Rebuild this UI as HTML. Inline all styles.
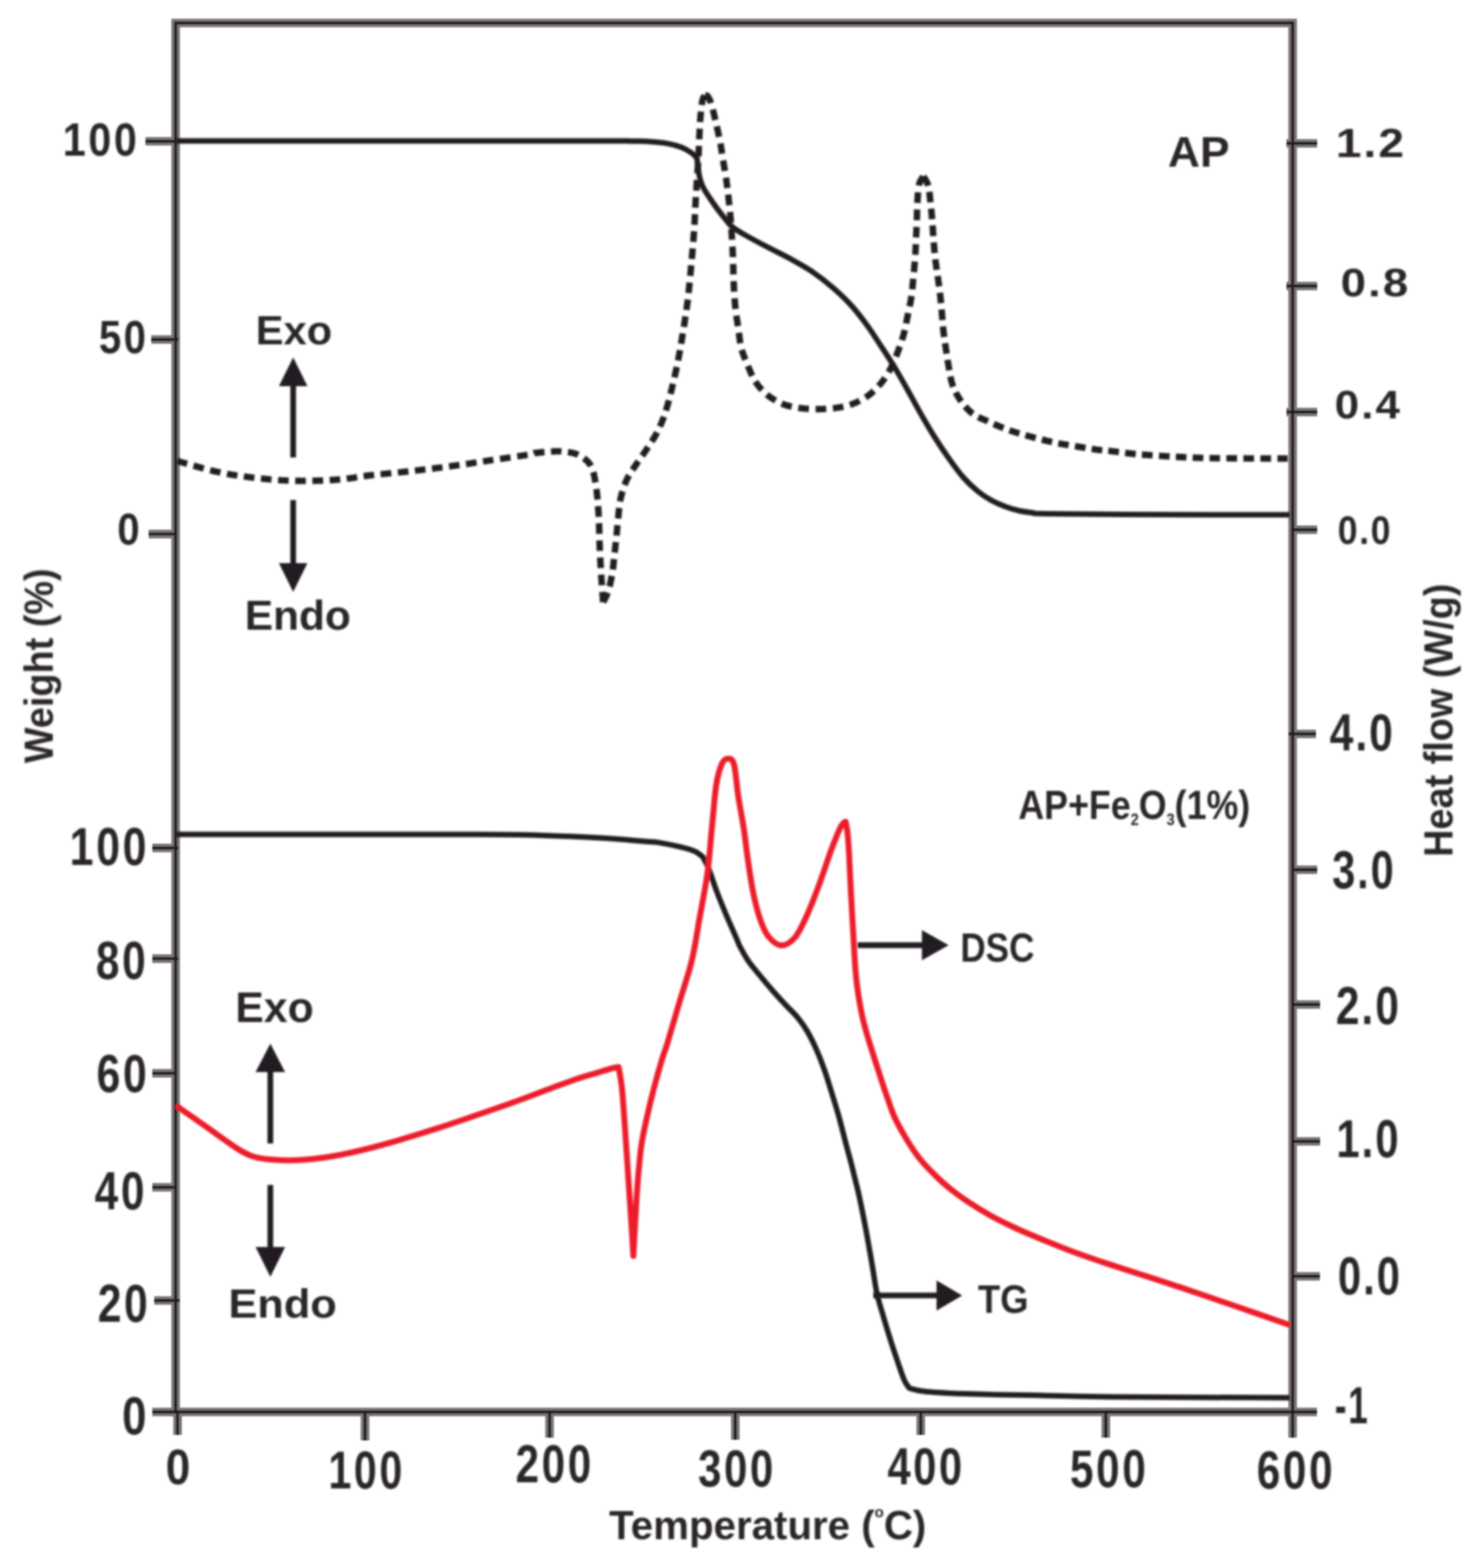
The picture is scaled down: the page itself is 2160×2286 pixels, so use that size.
<!DOCTYPE html>
<html lang="en">
<head>
<meta charset="utf-8">
<title>TG-DSC curves of AP and AP+Fe2O3 (1%)</title>
<style>
html,body{margin:0;padding:0;background:#fff;}
body{width:2160px;height:2286px;overflow:hidden;}
svg{display:block;}
.t{font-family:"Liberation Sans",Arial,Helvetica,sans-serif;font-weight:bold;fill:#2a2627;}
</style>
</head>
<body>
<svg xmlns="http://www.w3.org/2000/svg" width="2160" height="2286" viewBox="0 0 2160 2286">
<rect x="0" y="0" width="2160" height="2286" fill="#ffffff"/>
<defs><filter id="fa" filterUnits="userSpaceOnUse" x="0" y="0" width="2160" height="2286"><feGaussianBlur stdDeviation="0.80"/></filter><filter id="fc" filterUnits="userSpaceOnUse" x="0" y="0" width="2160" height="2286"><feGaussianBlur stdDeviation="1.80"/></filter><filter id="ft" filterUnits="userSpaceOnUse" x="0" y="0" width="2160" height="2286"><feGaussianBlur stdDeviation="1.80"/></filter></defs>
<g id="axes" filter="url(#fa)">
<path d="M256.0 2058.5 L256.0 33.5 L1884.0 33.5" fill="none" stroke="#7d7876" stroke-width="12.6" stroke-linejoin="miter"/>
<line x1="1884.0" y1="27.2" x2="1884.0" y2="2058.5" stroke="#7d7876" stroke-width="12.6" stroke-linecap="butt"/>
<line x1="249.7" y1="2058.5" x2="1890.3" y2="2058.5" stroke="#7d7876" stroke-width="12.6" stroke-linecap="butt"/>
<line x1="212.0" y1="206.0" x2="256.0" y2="206.0" stroke="#7d7876" stroke-width="12.6" stroke-linecap="butt"/>
<line x1="220.5" y1="495.0" x2="260.0" y2="495.0" stroke="#7d7876" stroke-width="12.6" stroke-linecap="butt"/>
<line x1="216.7" y1="778.6" x2="254.0" y2="778.6" stroke="#7d7876" stroke-width="12.6" stroke-linecap="butt"/>
<line x1="222.0" y1="1236.2" x2="260.0" y2="1236.2" stroke="#7d7876" stroke-width="12.6" stroke-linecap="butt"/>
<line x1="222.0" y1="1397.6" x2="260.0" y2="1397.6" stroke="#7d7876" stroke-width="12.6" stroke-linecap="butt"/>
<line x1="222.0" y1="1564.7" x2="254.0" y2="1564.7" stroke="#7d7876" stroke-width="12.6" stroke-linecap="butt"/>
<line x1="222.0" y1="1731.0" x2="254.0" y2="1731.0" stroke="#7d7876" stroke-width="12.6" stroke-linecap="butt"/>
<line x1="224.8" y1="1896.0" x2="262.0" y2="1896.0" stroke="#7d7876" stroke-width="12.6" stroke-linecap="butt"/>
<line x1="222.0" y1="2058.5" x2="256.0" y2="2058.5" stroke="#7d7876" stroke-width="12.6" stroke-linecap="butt"/>
<line x1="1875.0" y1="209.0" x2="1919.7" y2="209.0" stroke="#7d7876" stroke-width="12.6" stroke-linecap="butt"/>
<line x1="1875.0" y1="417.0" x2="1919.7" y2="417.0" stroke="#7d7876" stroke-width="12.6" stroke-linecap="butt"/>
<line x1="1875.0" y1="600.8" x2="1919.7" y2="600.8" stroke="#7d7876" stroke-width="12.6" stroke-linecap="butt"/>
<line x1="1886.0" y1="772.3" x2="1919.7" y2="772.3" stroke="#7d7876" stroke-width="12.6" stroke-linecap="butt"/>
<line x1="1878.0" y1="1070.0" x2="1918.0" y2="1070.0" stroke="#7d7876" stroke-width="12.6" stroke-linecap="butt"/>
<line x1="1886.0" y1="1268.0" x2="1919.7" y2="1268.0" stroke="#7d7876" stroke-width="12.6" stroke-linecap="butt"/>
<line x1="1886.0" y1="1464.5" x2="1924.0" y2="1464.5" stroke="#7d7876" stroke-width="12.6" stroke-linecap="butt"/>
<line x1="1886.0" y1="1664.0" x2="1924.0" y2="1664.0" stroke="#7d7876" stroke-width="12.6" stroke-linecap="butt"/>
<line x1="1886.0" y1="1860.8" x2="1923.7" y2="1860.8" stroke="#7d7876" stroke-width="12.6" stroke-linecap="butt"/>
<line x1="1884.0" y1="2058.5" x2="1919.4" y2="2058.5" stroke="#7d7876" stroke-width="12.6" stroke-linecap="butt"/>
<line x1="258.8" y1="2058.5" x2="258.8" y2="2092.0" stroke="#7d7876" stroke-width="12.6" stroke-linecap="butt"/>
<line x1="532.0" y1="2058.5" x2="532.0" y2="2100.0" stroke="#7d7876" stroke-width="12.6" stroke-linecap="butt"/>
<line x1="801.0" y1="2058.5" x2="801.0" y2="2096.0" stroke="#7d7876" stroke-width="12.6" stroke-linecap="butt"/>
<line x1="1071.7" y1="2058.5" x2="1071.7" y2="2099.0" stroke="#7d7876" stroke-width="12.6" stroke-linecap="butt"/>
<line x1="1342.0" y1="2058.5" x2="1342.0" y2="2092.0" stroke="#7d7876" stroke-width="12.6" stroke-linecap="butt"/>
<line x1="1611.7" y1="2058.5" x2="1611.7" y2="2096.0" stroke="#7d7876" stroke-width="12.6" stroke-linecap="butt"/>
<line x1="1884.0" y1="2058.5" x2="1884.0" y2="2096.0" stroke="#7d7876" stroke-width="12.6" stroke-linecap="butt"/>
<path d="M256.0 2058.5 L256.0 33.5 L1884.0 33.5" fill="none" stroke="#231f20" stroke-width="4.4" stroke-linejoin="miter"/>
<line x1="1884.0" y1="31.3" x2="1884.0" y2="2058.5" stroke="#231f20" stroke-width="4.4" stroke-linecap="butt"/>
<line x1="253.8" y1="2058.5" x2="1886.2" y2="2058.5" stroke="#231f20" stroke-width="4.4" stroke-linecap="butt"/>
<line x1="212.0" y1="206.0" x2="256.0" y2="206.0" stroke="#231f20" stroke-width="4.4" stroke-linecap="butt"/>
<line x1="220.5" y1="495.0" x2="260.0" y2="495.0" stroke="#231f20" stroke-width="4.4" stroke-linecap="butt"/>
<line x1="216.7" y1="778.6" x2="254.0" y2="778.6" stroke="#231f20" stroke-width="4.4" stroke-linecap="butt"/>
<line x1="222.0" y1="1236.2" x2="260.0" y2="1236.2" stroke="#231f20" stroke-width="4.4" stroke-linecap="butt"/>
<line x1="222.0" y1="1397.6" x2="260.0" y2="1397.6" stroke="#231f20" stroke-width="4.4" stroke-linecap="butt"/>
<line x1="222.0" y1="1564.7" x2="254.0" y2="1564.7" stroke="#231f20" stroke-width="4.4" stroke-linecap="butt"/>
<line x1="222.0" y1="1731.0" x2="254.0" y2="1731.0" stroke="#231f20" stroke-width="4.4" stroke-linecap="butt"/>
<line x1="224.8" y1="1896.0" x2="262.0" y2="1896.0" stroke="#231f20" stroke-width="4.4" stroke-linecap="butt"/>
<line x1="222.0" y1="2058.5" x2="256.0" y2="2058.5" stroke="#231f20" stroke-width="4.4" stroke-linecap="butt"/>
<line x1="1875.0" y1="209.0" x2="1919.7" y2="209.0" stroke="#231f20" stroke-width="4.4" stroke-linecap="butt"/>
<line x1="1875.0" y1="417.0" x2="1919.7" y2="417.0" stroke="#231f20" stroke-width="4.4" stroke-linecap="butt"/>
<line x1="1875.0" y1="600.8" x2="1919.7" y2="600.8" stroke="#231f20" stroke-width="4.4" stroke-linecap="butt"/>
<line x1="1886.0" y1="772.3" x2="1919.7" y2="772.3" stroke="#231f20" stroke-width="4.4" stroke-linecap="butt"/>
<line x1="1878.0" y1="1070.0" x2="1918.0" y2="1070.0" stroke="#231f20" stroke-width="4.4" stroke-linecap="butt"/>
<line x1="1886.0" y1="1268.0" x2="1919.7" y2="1268.0" stroke="#231f20" stroke-width="4.4" stroke-linecap="butt"/>
<line x1="1886.0" y1="1464.5" x2="1924.0" y2="1464.5" stroke="#231f20" stroke-width="4.4" stroke-linecap="butt"/>
<line x1="1886.0" y1="1664.0" x2="1924.0" y2="1664.0" stroke="#231f20" stroke-width="4.4" stroke-linecap="butt"/>
<line x1="1886.0" y1="1860.8" x2="1923.7" y2="1860.8" stroke="#231f20" stroke-width="4.4" stroke-linecap="butt"/>
<line x1="1884.0" y1="2058.5" x2="1919.4" y2="2058.5" stroke="#231f20" stroke-width="4.4" stroke-linecap="butt"/>
<line x1="258.8" y1="2058.5" x2="258.8" y2="2092.0" stroke="#231f20" stroke-width="4.4" stroke-linecap="butt"/>
<line x1="532.0" y1="2058.5" x2="532.0" y2="2100.0" stroke="#231f20" stroke-width="4.4" stroke-linecap="butt"/>
<line x1="801.0" y1="2058.5" x2="801.0" y2="2096.0" stroke="#231f20" stroke-width="4.4" stroke-linecap="butt"/>
<line x1="1071.7" y1="2058.5" x2="1071.7" y2="2099.0" stroke="#231f20" stroke-width="4.4" stroke-linecap="butt"/>
<line x1="1342.0" y1="2058.5" x2="1342.0" y2="2092.0" stroke="#231f20" stroke-width="4.4" stroke-linecap="butt"/>
<line x1="1611.7" y1="2058.5" x2="1611.7" y2="2096.0" stroke="#231f20" stroke-width="4.4" stroke-linecap="butt"/>
<line x1="1884.0" y1="2058.5" x2="1884.0" y2="2096.0" stroke="#231f20" stroke-width="4.4" stroke-linecap="butt"/>
</g>
<g id="curves" fill="none" stroke-linejoin="round" filter="url(#fc)">
<path d="M256.0 205.5 C313.3 205.5 496.0 205.5 600.0 205.5 C704.0 205.5 826.7 205.5 880.0 205.5 C933.3 205.5 910.0 205.6 920.0 205.7 C930.0 205.8 931.3 205.4 940.0 206.0 C948.7 206.6 963.3 207.6 972.2 209.1 C981.1 210.6 987.3 212.5 993.2 214.8 C999.1 217.1 1003.9 220.2 1007.7 222.8 C1011.5 225.4 1014.4 229.2 1015.8 230.5 C1016.3 234.6 1017.7 248.3 1019.0 255.1 C1020.3 261.9 1021.4 265.8 1023.8 271.2 C1026.2 276.6 1030.0 281.9 1033.5 287.3 C1037.0 292.7 1041.0 298.4 1044.8 303.5 C1048.6 308.6 1052.3 313.4 1056.1 318.0 C1059.9 322.6 1062.6 326.9 1067.4 330.9 C1072.2 334.9 1076.8 337.3 1085.1 342.1 C1093.4 346.9 1106.5 353.9 1117.3 359.5 C1128.0 365.1 1138.6 370.0 1149.6 376.0 C1160.5 382.0 1172.3 388.2 1183.0 395.5 C1193.7 402.8 1204.5 411.3 1214.0 419.5 C1223.5 427.7 1231.7 435.4 1240.0 444.5 C1248.3 453.6 1256.1 463.8 1263.6 474.0 C1271.1 484.2 1278.3 495.8 1285.0 506.0 C1291.7 516.2 1297.7 525.3 1303.9 535.5 C1310.1 545.7 1315.3 555.1 1322.0 567.0 C1328.7 578.9 1337.5 595.3 1344.2 607.0 C1350.9 618.7 1355.3 626.4 1362.0 637.0 C1368.7 647.6 1377.5 660.7 1384.5 670.5 C1391.5 680.3 1397.3 688.4 1404.0 696.0 C1410.7 703.6 1418.0 710.4 1424.8 716.0 C1431.6 721.6 1438.3 725.8 1445.0 729.5 C1451.7 733.2 1458.4 736.0 1465.1 738.5 C1471.8 741.0 1478.3 743.0 1485.0 744.5 C1491.7 746.0 1498.0 746.8 1505.0 747.5 C1512.0 748.2 1494.2 748.5 1526.7 749.0 C1559.2 749.5 1641.1 750.0 1700.0 750.3 C1758.9 750.5 1850.0 750.5 1880.0 750.5" stroke="#231f20" stroke-width="8.0"/>
<path d="M258.0 672.0 C267.8 674.7 297.7 683.8 317.0 688.0 C336.3 692.2 354.8 694.8 374.0 697.0 C393.2 699.2 412.8 700.6 432.0 701.0 C451.2 701.4 471.0 700.8 489.0 699.5 C507.0 698.2 521.9 695.1 540.0 693.0 C558.1 690.9 578.4 689.2 597.6 687.0 C616.8 684.8 635.8 682.6 655.0 680.0 C674.2 677.4 693.8 674.3 713.0 671.4 C732.2 668.5 759.3 664.6 770.5 662.8 C781.7 661.0 775.1 661.2 780.0 660.5 C784.9 659.8 793.5 658.9 800.0 658.5 C806.5 658.1 811.6 657.4 818.7 658.1 C825.8 658.9 835.8 659.6 842.8 663.0 C849.8 666.4 856.8 671.6 861.0 678.6 C865.2 685.6 866.5 695.9 868.2 705.2 C869.9 714.5 870.6 724.5 871.4 734.2 C872.2 743.9 872.7 753.9 873.1 763.2 C873.5 772.5 873.5 780.9 873.8 789.8 C874.1 798.7 874.5 807.1 875.0 816.4 C875.5 825.7 876.0 835.1 876.7 845.4 C877.4 855.7 878.7 872.6 879.1 878.0" stroke="#231f20" stroke-width="9.4" stroke-dasharray="15.50 9.54" stroke-dashoffset="0.00"/>
<path d="M879.1 878.0 C880.3 875.4 884.2 869.3 886.4 862.3 C888.6 855.3 890.9 844.6 892.4 835.8 C893.9 826.9 894.5 818.1 895.5 809.2 C896.5 800.3 897.5 791.5 898.4 782.6 C899.3 773.7 899.9 765.3 900.9 756.0 C901.9 746.7 902.5 736.3 904.5 727.0 C906.5 717.7 909.4 708.5 913.0 700.4 C916.6 692.3 921.4 686.0 926.2 678.6 C931.0 671.2 937.0 663.4 942.0 655.7 C947.0 648.1 952.3 640.6 956.5 632.7 C960.7 624.8 964.2 617.0 967.3 608.5 C970.4 600.0 972.9 590.9 975.3 582.0 C977.7 573.1 979.7 564.5 981.8 555.4 C983.9 546.3 986.1 536.7 987.9 527.6 C989.7 518.5 991.2 509.9 992.7 501.0 C994.2 492.1 995.7 483.5 997.1 474.4 C998.5 465.3 1000.2 454.0 1001.2 446.6 C1002.2 439.2 1002.2 440.4 1003.3 430.0 C1004.4 419.6 1006.3 399.7 1007.7 384.0 C1009.1 368.3 1010.6 351.8 1011.7 335.7 C1012.8 319.6 1013.2 303.4 1014.2 287.3 C1015.2 271.2 1016.6 252.4 1017.4 239.0 C1018.2 225.6 1018.5 217.4 1019.0 206.7 C1019.5 195.9 1019.8 184.5 1020.6 174.5 C1021.4 164.5 1022.6 152.4 1023.8 146.5 C1025.0 140.6 1026.9 140.2 1027.5 139.0" stroke="#231f20" stroke-width="9.4" stroke-dasharray="15.50 9.46" stroke-dashoffset="0.00"/>
<path d="M1027.5 139.0 C1028.2 139.2 1030.0 138.4 1031.5 140.5 C1033.0 142.6 1034.8 145.1 1036.7 151.3 C1038.7 157.5 1041.1 168.5 1043.2 177.7 C1045.3 186.9 1047.8 197.6 1049.6 206.7 C1051.3 215.8 1052.2 223.4 1053.7 232.5 C1055.2 241.6 1057.2 252.4 1058.5 261.5 C1059.8 270.6 1060.6 277.6 1061.7 287.3 C1062.8 297.0 1064.1 310.2 1064.9 319.6 C1065.7 329.0 1066.0 334.9 1066.6 343.8 C1067.1 352.7 1067.8 363.4 1068.2 372.8 C1068.6 382.2 1068.7 391.5 1069.0 400.2 C1069.3 408.9 1069.5 416.3 1070.0 425.0 C1070.5 433.7 1071.2 443.1 1072.2 452.2 C1073.2 461.3 1075.0 470.5 1076.3 479.6 C1077.6 488.7 1078.1 498.4 1080.3 507.0 C1082.5 515.6 1085.7 522.9 1089.2 531.2 C1092.7 539.5 1096.3 549.5 1101.3 557.0 C1106.3 564.5 1112.3 571.0 1119.0 576.4 C1125.7 581.8 1133.8 586.2 1141.6 589.3 C1149.4 592.4 1157.4 593.7 1165.7 594.9 C1174.0 596.1 1182.9 596.5 1191.5 596.5 C1200.1 596.5 1209.0 596.1 1217.3 594.9 C1225.6 593.7 1233.6 592.2 1241.5 589.3 C1249.4 586.4 1257.5 582.5 1264.5 577.5 C1271.5 572.5 1277.8 566.2 1283.4 559.5 C1289.0 552.8 1293.9 545.1 1298.2 537.0 C1302.5 528.9 1306.1 519.5 1309.3 511.0 C1312.5 502.5 1315.2 494.5 1317.5 486.0 C1319.8 477.5 1321.2 468.9 1323.0 460.0 C1324.8 451.1 1327.1 441.6 1328.4 432.5 C1329.8 423.4 1330.2 414.6 1331.1 405.4 C1332.0 396.2 1333.0 386.6 1333.7 377.2 C1334.4 367.8 1334.7 358.4 1335.1 349.0 C1335.5 339.6 1336.0 329.9 1336.3 320.8 C1336.6 311.7 1336.5 303.3 1337.1 294.6 C1337.7 285.9 1338.2 274.7 1339.7 268.4 C1341.2 262.1 1344.8 258.9 1345.8 257.0" stroke="#231f20" stroke-width="9.4" stroke-dasharray="15.50 9.75" stroke-dashoffset="0.00"/>
<path d="M1345.8 257.0 C1347.0 259.2 1351.1 264.5 1352.8 270.4 C1354.5 276.3 1355.0 284.4 1355.9 292.5 C1356.9 300.6 1357.7 309.6 1358.5 318.7 C1359.3 327.8 1359.8 337.6 1360.5 347.0 C1361.2 356.4 1361.9 366.1 1362.9 375.2 C1363.9 384.3 1365.3 392.7 1366.5 401.4 C1367.7 410.1 1369.0 418.9 1370.0 427.6 C1371.0 436.3 1371.8 444.7 1372.6 453.8 C1373.4 462.9 1374.0 472.9 1375.0 482.0 C1376.0 491.1 1377.3 499.5 1378.6 508.2 C1379.9 516.9 1381.1 525.7 1382.7 534.4 C1384.3 543.1 1385.3 552.5 1388.1 560.5 C1390.8 568.5 1394.3 575.6 1399.2 582.7 C1404.1 589.8 1410.2 597.5 1417.3 602.9 C1424.3 608.3 1433.4 611.2 1441.5 615.0 C1449.6 618.8 1458.1 622.5 1466.0 625.5 C1473.9 628.5 1480.8 630.6 1489.0 633.0 C1497.2 635.4 1506.3 637.8 1515.0 640.0 C1523.7 642.2 1531.8 644.2 1541.0 646.0 C1550.2 647.8 1560.3 649.4 1570.0 651.0 C1579.7 652.6 1590.8 654.5 1599.0 655.6 C1607.2 656.7 1609.5 656.5 1619.0 657.6 C1628.5 658.7 1640.3 660.6 1656.0 662.0 C1671.7 663.4 1693.8 665.0 1713.0 666.0 C1732.2 667.0 1743.7 667.6 1771.0 668.0 C1798.3 668.4 1859.3 668.4 1877.0 668.5" stroke="#231f20" stroke-width="9.4" stroke-dasharray="15.50 9.14" stroke-dashoffset="0.00"/>
<path d="M256.0 1216.5 C296.7 1216.5 426.0 1216.5 500.0 1216.5 C574.0 1216.5 655.0 1216.4 700.0 1216.5 C745.0 1216.6 748.7 1216.7 770.0 1217.2 C791.3 1217.7 808.7 1218.5 828.0 1219.3 C847.3 1220.1 866.8 1221.0 886.0 1222.3 C905.2 1223.6 931.2 1226.0 943.5 1227.0 C955.8 1228.0 951.9 1227.1 960.0 1228.4 C968.1 1229.7 983.4 1232.7 992.3 1234.8 C1001.2 1236.9 1007.8 1238.9 1013.2 1241.3 C1018.6 1243.7 1022.6 1248.1 1024.5 1249.4 C1025.8 1252.1 1029.4 1257.5 1032.6 1265.5 C1035.8 1273.5 1039.9 1287.0 1043.9 1297.7 C1047.9 1308.5 1052.0 1318.5 1056.8 1330.0 C1061.6 1341.5 1069.3 1358.7 1072.9 1367.0 C1076.5 1375.3 1075.7 1374.5 1078.5 1380.0 C1081.3 1385.5 1086.0 1393.9 1090.0 1400.0 C1094.0 1406.1 1096.4 1408.7 1102.8 1416.5 C1109.2 1424.3 1121.3 1438.8 1128.5 1447.0 C1135.7 1455.2 1140.0 1459.6 1145.7 1465.7 C1151.4 1471.8 1157.7 1477.5 1162.8 1483.8 C1167.9 1490.1 1171.9 1495.6 1176.5 1503.4 C1181.1 1511.2 1185.9 1521.1 1190.2 1530.8 C1194.5 1540.5 1198.5 1551.0 1202.2 1561.6 C1205.9 1572.2 1209.1 1583.1 1212.5 1594.2 C1215.9 1605.3 1219.4 1616.1 1222.8 1628.4 C1226.2 1640.7 1230.2 1657.0 1233.0 1667.8 C1235.8 1678.6 1237.7 1684.8 1239.9 1693.5 C1242.2 1702.2 1244.4 1711.4 1246.5 1720.0 C1248.6 1728.6 1250.1 1733.5 1252.6 1745.3 C1255.1 1757.1 1258.7 1774.7 1261.7 1790.7 C1264.7 1806.7 1268.0 1825.8 1270.7 1841.5 C1273.4 1857.2 1275.3 1872.3 1278.0 1885.0 C1280.7 1897.7 1283.7 1906.2 1287.0 1917.7 C1290.3 1929.2 1294.4 1942.5 1298.0 1954.0 C1301.6 1965.5 1305.5 1976.9 1308.8 1986.6 C1312.1 1996.3 1315.2 2005.8 1317.9 2012.0 C1320.6 2018.2 1324.0 2021.8 1325.2 2023.8 C1328.5 2024.5 1335.6 2027.1 1345.0 2028.3 C1354.4 2029.5 1366.3 2030.2 1381.4 2031.0 C1396.5 2031.8 1416.0 2032.3 1435.8 2032.8 C1455.6 2033.3 1469.6 2033.4 1500.0 2034.0 C1530.4 2034.6 1554.7 2035.9 1618.0 2036.5 C1681.3 2037.1 1836.3 2037.6 1880.0 2037.8" stroke="#231f20" stroke-width="8.0"/>
<path d="M256.0 1611.5 C263.3 1616.6 284.9 1631.7 300.0 1642.3 C315.1 1652.9 335.3 1667.8 346.6 1675.0 C357.9 1682.2 360.9 1683.3 368.0 1685.8 C375.1 1688.3 380.4 1689.0 389.3 1690.0 C398.2 1691.0 410.6 1691.8 421.2 1691.8 C431.8 1691.8 440.8 1691.3 453.2 1690.0 C465.6 1688.7 481.7 1686.4 495.9 1683.7 C510.1 1681.0 524.3 1677.6 538.5 1674.0 C552.7 1670.4 564.3 1667.3 581.2 1662.3 C598.1 1657.3 621.7 1650.1 640.0 1644.2 C658.3 1638.3 672.9 1633.2 691.0 1627.0 C709.1 1620.8 729.2 1613.9 748.4 1607.0 C767.6 1600.1 790.7 1591.1 806.0 1585.5 C821.3 1579.9 830.4 1576.5 840.0 1573.2 C849.6 1570.0 854.9 1568.6 863.6 1566.0 C872.3 1563.4 885.7 1559.2 892.0 1557.5 C898.3 1555.8 899.9 1555.8 901.5 1555.5 C902.3 1560.7 904.8 1570.2 906.5 1586.5 C908.2 1602.8 910.1 1633.6 911.5 1653.0 C912.9 1672.4 913.7 1686.4 914.8 1703.0 C915.9 1719.6 917.1 1736.2 918.2 1752.8 C919.3 1769.4 920.7 1789.7 921.5 1802.7 C922.3 1815.7 922.8 1826.3 923.1 1831.0 C923.7 1820.7 925.4 1788.0 926.5 1769.4 C927.6 1750.8 928.4 1736.1 929.8 1719.5 C931.2 1702.9 932.6 1685.0 934.8 1669.7 C937.0 1654.5 940.0 1641.9 943.1 1628.0 C946.2 1614.1 949.5 1600.3 953.1 1586.5 C956.7 1572.7 961.4 1556.1 964.7 1545.0 C968.0 1533.9 968.8 1533.8 973.0 1520.0 C977.2 1506.2 984.1 1482.0 990.0 1462.0 C995.9 1442.0 1003.4 1420.7 1008.4 1400.0 C1013.4 1379.3 1015.9 1359.1 1019.7 1338.0 C1023.5 1316.9 1028.0 1295.0 1031.0 1273.5 C1034.0 1252.0 1035.2 1230.5 1037.4 1209.0 C1039.6 1187.5 1041.5 1160.3 1043.9 1144.5 C1046.3 1128.7 1049.2 1120.4 1052.0 1114.0 C1054.8 1107.6 1057.5 1106.0 1060.5 1106.0 C1063.5 1106.0 1067.1 1104.9 1069.7 1114.0 C1072.3 1123.1 1073.6 1144.8 1076.0 1160.6 C1078.4 1176.4 1081.8 1192.9 1084.2 1209.0 C1086.6 1225.1 1088.2 1241.3 1090.6 1257.4 C1093.0 1273.5 1095.5 1291.0 1098.7 1305.8 C1101.9 1320.6 1106.2 1335.8 1110.0 1346.0 C1113.8 1356.2 1116.5 1361.6 1121.3 1367.0 C1126.1 1372.4 1132.8 1378.4 1139.0 1378.4 C1145.2 1378.4 1152.5 1373.7 1158.4 1367.0 C1164.3 1360.3 1168.6 1350.9 1174.5 1338.0 C1180.4 1325.1 1187.9 1305.8 1193.9 1289.7 C1199.9 1273.6 1205.8 1254.8 1210.7 1241.3 C1215.7 1227.8 1220.5 1215.9 1223.6 1209.0 C1226.7 1202.1 1228.0 1201.6 1229.5 1199.8 C1231.0 1198.0 1232.0 1198.3 1232.5 1198.0 C1232.9 1200.3 1234.2 1204.8 1235.0 1212.0 C1235.8 1219.2 1236.4 1225.7 1237.3 1241.3 C1238.2 1256.9 1239.2 1281.8 1240.5 1305.8 C1241.8 1329.8 1243.7 1364.1 1245.0 1385.0 C1246.3 1405.9 1246.5 1415.1 1248.5 1431.4 C1250.5 1447.7 1253.6 1467.1 1257.0 1482.8 C1260.4 1498.5 1264.7 1511.3 1269.0 1525.6 C1273.3 1539.9 1278.8 1556.4 1282.7 1568.5 C1286.6 1580.6 1289.0 1588.1 1292.5 1598.0 C1296.0 1607.9 1298.9 1618.0 1303.5 1628.1 C1308.1 1638.2 1314.1 1648.8 1319.9 1658.6 C1325.8 1668.4 1331.6 1677.8 1338.6 1686.8 C1345.6 1695.8 1354.3 1704.8 1362.1 1712.6 C1369.9 1720.4 1377.3 1727.1 1385.5 1733.7 C1393.7 1740.3 1401.5 1746.0 1411.3 1752.4 C1421.1 1758.9 1432.9 1766.1 1444.2 1772.4 C1455.5 1778.7 1467.6 1784.5 1479.3 1790.0 C1491.0 1795.5 1500.8 1799.5 1514.5 1805.2 C1528.2 1810.9 1545.8 1818.1 1561.4 1824.0 C1577.0 1829.9 1592.7 1835.1 1608.3 1840.4 C1623.9 1845.7 1636.6 1849.5 1655.2 1855.6 C1673.8 1861.6 1695.9 1868.6 1720.0 1876.7 C1744.1 1884.8 1773.2 1894.8 1800.0 1904.0 C1826.8 1913.2 1867.1 1927.3 1880.5 1932.0" stroke="#ec1c2c" stroke-width="8.6" stroke-linejoin="round"/>
</g>
<g id="arrows" fill="#231f20" filter="url(#fc)">
<line x1="427.3" y1="667.0" x2="427.3" y2="542.0" stroke="#231f20" stroke-width="8.3" stroke-linecap="butt"/>
<polygon points="406.5,563.0 448.1,563.0 427.3,521.0"/>
<line x1="427.3" y1="729.0" x2="427.3" y2="842.0" stroke="#231f20" stroke-width="8.3" stroke-linecap="butt"/>
<polygon points="406.5,821.0 448.1,821.0 427.3,863.0"/>
<line x1="394.0" y1="1667.0" x2="394.0" y2="1542.2" stroke="#231f20" stroke-width="8.3" stroke-linecap="butt"/>
<polygon points="372.5,1563.0 415.5,1563.0 394.0,1521.5"/>
<line x1="394.0" y1="1727.5" x2="394.0" y2="1839.8" stroke="#231f20" stroke-width="8.3" stroke-linecap="butt"/>
<polygon points="372.5,1818.0 415.5,1818.0 394.0,1861.5"/>
<line x1="1250.0" y1="1378.0" x2="1363.2" y2="1378.0" stroke="#231f20" stroke-width="8.3" stroke-linecap="butt"/>
<polygon points="1343.7,1356.0 1343.7,1400.0 1382.6,1378.0"/>
<line x1="1273.0" y1="1888.7" x2="1383.7" y2="1888.7" stroke="#231f20" stroke-width="8.3" stroke-linecap="butt"/>
<polygon points="1365.0,1866.7 1365.0,1910.7 1402.4,1888.7"/>
</g>
<g id="labels" filter="url(#ft)">
<text class="t" transform="translate(0 226.5) scale(0.887 1)" x="103.3 145.2 187.2" font-size="67.8">100</text>
<text class="t" transform="translate(0 514.8) scale(0.860 1)" x="167.7 209.6" font-size="67.8">50</text>
<text class="t" transform="translate(0 794.1) scale(0.891 1)" x="192.0" font-size="65.7">0</text>
<text class="t" transform="translate(0 1260.7) scale(0.804 1)" x="126.3 174.4 222.4" font-size="77.7">100</text>
<text class="t" transform="translate(0 1426.6) scale(0.794 1)" x="176.1 224.3" font-size="78.0">80</text>
<text class="t" transform="translate(0 1592.3) scale(0.798 1)" x="176.3 224.5" font-size="78.0">60</text>
<text class="t" transform="translate(0 1762.7) scale(0.794 1)" x="173.9 222.0" font-size="77.7">40</text>
<text class="t" transform="translate(0 1926.5) scale(0.797 1)" x="178.7 226.9" font-size="78.0">20</text>
<text class="t" transform="translate(0 2090.7) scale(0.821 1)" x="216.9" font-size="77.7">0</text>
<text class="t" transform="translate(0 228.5) scale(1.140 1)" x="1707.9 1743.3 1762.3" font-size="58.8">1.2</text>
<text class="t" transform="translate(0 431.9) scale(1.175 1)" x="1663.0 1697.1 1715.4" font-size="56.5">0.8</text>
<text class="t" transform="translate(0 609.9) scale(1.134 1)" x="1715.4 1749.5 1767.8" font-size="56.5">0.4</text>
<text class="t" transform="translate(0 792.9) scale(0.894 1)" x="2181.0 2215.9 2234.7" font-size="58.0">0.0</text>
<text class="t" transform="translate(0 1093.7) scale(0.813 1)" x="2383.8 2429.8 2454.5" font-size="76.3">4.0</text>
<text class="t" transform="translate(0 1295.2) scale(0.777 1)" x="2499.0 2545.8 2571.1" font-size="77.7">3.0</text>
<text class="t" transform="translate(0 1492.7) scale(0.796 1)" x="2446.1 2492.9 2518.1" font-size="77.7">2.0</text>
<text class="t" transform="translate(0 1687.4) scale(0.783 1)" x="2487.6 2534.6 2559.9" font-size="78.0">1.0</text>
<text class="t" transform="translate(0 1887.4) scale(0.782 1)" x="2493.7 2540.6 2565.9" font-size="77.9">0.0</text>
<text class="t" transform="translate(0 2075.3) scale(0.675 1)" x="2882.2 2911.2" font-size="75.9">-1</text>
<text class="t" transform="translate(0 2164.3) scale(0.897 1)" x="269.1" font-size="71.8">0</text>
<text class="t" transform="translate(0 2169.7) scale(0.772 1)" x="620.2 668.2 716.3" font-size="77.7">100</text>
<text class="t" transform="translate(0 2160.7) scale(0.791 1)" x="950.0 998.0 1046.1" font-size="77.7">200</text>
<text class="t" transform="translate(0 2166.5) scale(0.804 1)" x="1265.6 1312.6 1359.6" font-size="76.1">300</text>
<text class="t" transform="translate(0 2163.7) scale(0.796 1)" x="1624.9 1672.0 1719.2" font-size="76.3">400</text>
<text class="t" transform="translate(0 2167.7) scale(0.793 1)" x="1966.6 2014.6 2062.6" font-size="77.7">500</text>
<text class="t" transform="translate(0 2169.5) scale(0.791 1)" x="2315.8 2363.9 2412.0" font-size="77.9">600</text>
<text class="t" transform="translate(1702.3 243.0) scale(1.020 1)" font-size="63.3">AP</text>
<text class="t" transform="translate(372.8 502.2) scale(1.025 1)" font-size="59.2">Exo</text>
<text class="t" transform="translate(356.7 917.7) scale(1.020 1)" font-size="60.7">Endo</text>
<text class="t" transform="translate(343.1 1490.2) scale(0.992 1)" font-size="62.7">Exo</text>
<text class="t" transform="translate(333.0 1920.9) scale(1.054 1)" font-size="59.9">Endo</text>
<text class="t" transform="translate(1399.7 1402.3) scale(0.853 1)" font-size="59.9">DSC</text>
<text class="t" transform="translate(1425.3 1913.9) scale(0.917 1)" font-size="58.0">TG</text>
<text class="t" transform="translate(77.0 1112.6) rotate(-90) scale(0.935 1)" font-size="59.0">Weight (%)</text>
<text class="t" transform="translate(2117.0 1249.2) rotate(-90) scale(0.935 1)" font-size="59.0">Heat flow (W/g)</text>
<text class="t" transform="translate(887.8 2243.6) scale(0.995 1)" font-size="59.0">Temperature (<tspan font-size="22" dy="-32">o</tspan><tspan dy="32">C)</tspan></text>
<text class="t" transform="translate(1484.2 1193.9) scale(0.884 1)" font-size="59.0">AP+Fe<tspan font-size="24" dy="9">2</tspan><tspan dy="-9">O</tspan><tspan font-size="24" dy="9">3</tspan><tspan dy="-9">(1%)</tspan></text>
</g>
</svg>
</body>
</html>
